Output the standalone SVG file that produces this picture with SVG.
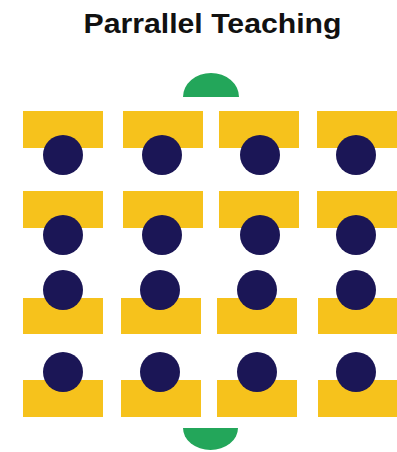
<svg xmlns="http://www.w3.org/2000/svg" width="397" height="452" viewBox="0 0 397 452">
<style>
.desk{fill:#F6C21C}
.stu{fill:#1B1656}
.teach{fill:#23A65A}
.title{font-family:"Liberation Sans",Arial,sans-serif;font-weight:bold;font-size:28px;fill:#111}
</style>
<rect width="397" height="452" fill="#fff"/>
<text class="title" x="212.5" y="33" text-anchor="middle" textLength="258" lengthAdjust="spacingAndGlyphs">Parrallel Teaching</text>
<g id="teacher-top"><path class="teach" d="M183 97 A28 24 0 0 1 239 97 Z"/></g>
<g id="teacher-bottom"><path class="teach" d="M183 428 A27.5 22 0 0 0 238 428 Z"/></g>
<g id="row1">
<g id="s11"><rect class="desk" x="23" y="111" width="80" height="37"/><circle class="stu" cx="63" cy="155" r="20"/></g>
<g id="s12"><rect class="desk" x="123" y="111" width="80" height="37"/><circle class="stu" cx="162" cy="155" r="20"/></g>
<g id="s13"><rect class="desk" x="219" y="111" width="80" height="37"/><circle class="stu" cx="260" cy="155" r="20"/></g>
<g id="s14"><rect class="desk" x="317" y="111" width="80" height="37"/><circle class="stu" cx="356" cy="155" r="20"/></g>
</g>
<g id="row2">
<g id="s21"><rect class="desk" x="23" y="191" width="80" height="37"/><circle class="stu" cx="63" cy="235" r="20"/></g>
<g id="s22"><rect class="desk" x="123" y="191" width="80" height="37"/><circle class="stu" cx="162" cy="235" r="20"/></g>
<g id="s23"><rect class="desk" x="219" y="191" width="80" height="37"/><circle class="stu" cx="260" cy="235" r="20"/></g>
<g id="s24"><rect class="desk" x="317" y="191" width="80" height="37"/><circle class="stu" cx="356" cy="235" r="20"/></g>
</g>
<g id="row3">
<g id="s31"><rect class="desk" x="23" y="298" width="80" height="36"/><circle class="stu" cx="63" cy="290" r="20"/></g>
<g id="s32"><rect class="desk" x="121" y="298" width="80" height="36"/><circle class="stu" cx="160" cy="290" r="20"/></g>
<g id="s33"><rect class="desk" x="217" y="298" width="80" height="36"/><circle class="stu" cx="257" cy="290" r="20"/></g>
<g id="s34"><rect class="desk" x="318" y="298" width="79" height="36"/><circle class="stu" cx="356" cy="290" r="20"/></g>
</g>
<g id="row4">
<g id="s41"><rect class="desk" x="23" y="380" width="80" height="37"/><circle class="stu" cx="63" cy="372" r="20"/></g>
<g id="s42"><rect class="desk" x="121" y="380" width="80" height="37"/><circle class="stu" cx="160" cy="372" r="20"/></g>
<g id="s43"><rect class="desk" x="217" y="380" width="80" height="37"/><circle class="stu" cx="257" cy="372" r="20"/></g>
<g id="s44"><rect class="desk" x="318" y="380" width="79" height="37"/><circle class="stu" cx="356" cy="372" r="20"/></g>
</g>
<g id="connectors"/>
</svg>
